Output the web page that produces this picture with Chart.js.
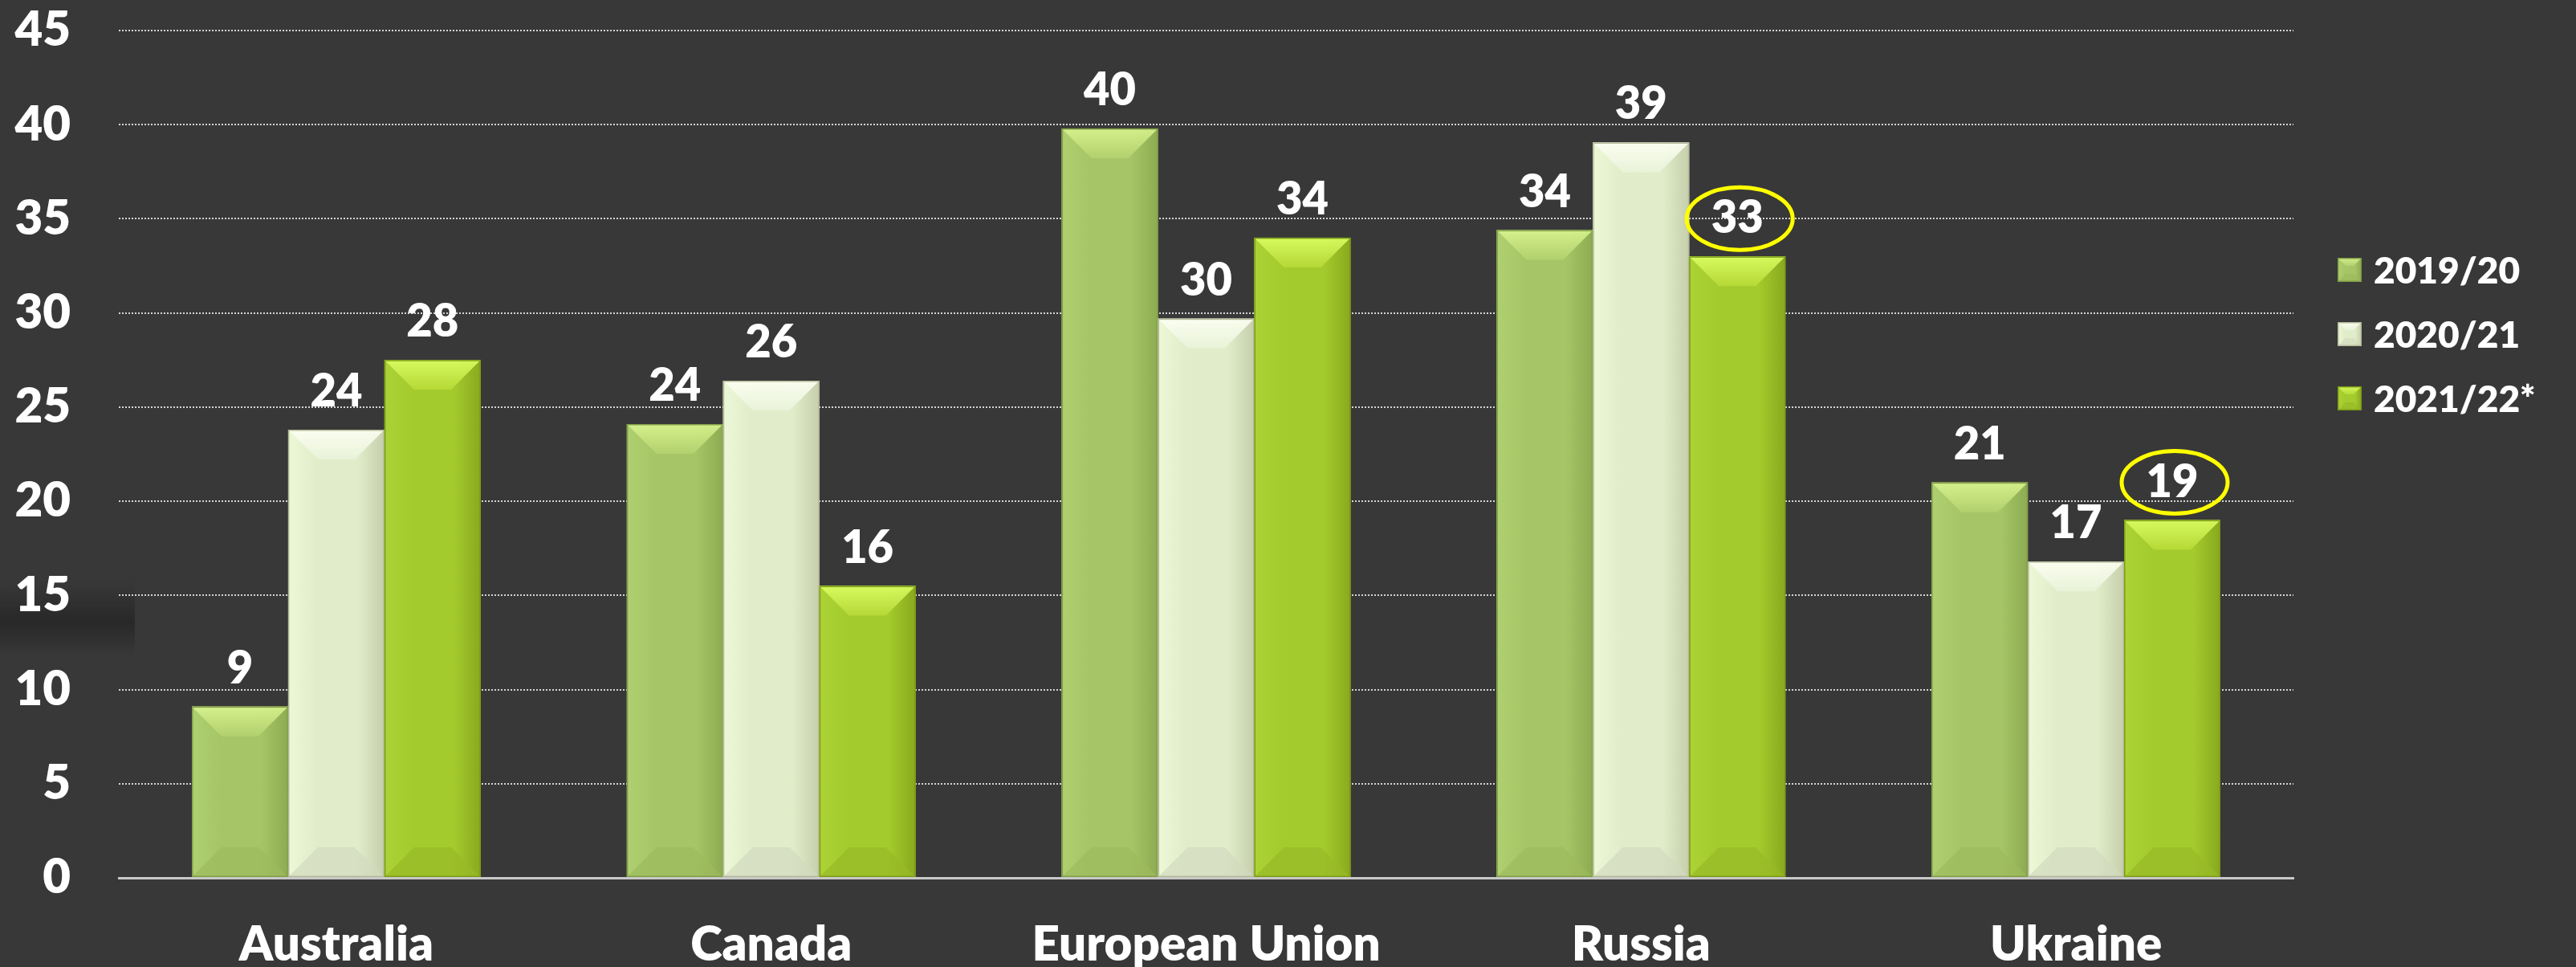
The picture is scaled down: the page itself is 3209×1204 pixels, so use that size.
<!DOCTYPE html>
<html>
<head>
<meta charset="utf-8">
<script src="https://cdn.jsdelivr.net/npm/chart.js@4.4.1/dist/chart.umd.min.js"></script>
<style>
    html, body { margin: 0; padding: 0; background: #383838; }
    #wrap { width: 3209px; height: 1204px; position: relative; }
</style>
</head>
<body>
<div id="wrap"><canvas id="cropChart"></canvas></div>
<script>
// Data
const countries = ['Australia', 'Canada', 'European Union', 'Russia', 'Ukraine'];
const seasons = ['2019/20', '2020/21', '2021/22*'];
const values1920 = [9.1, 24.1, 39.8, 34.4, 21.0];
const values2021 = [23.8, 26.4, 29.7, 39.05, 16.8];
const values2122 = [27.5, 15.5, 34.0, 33.0, 19.0];
const yMin = 0;
const yMax = 45;
const yStep = 5;
// labels marked with a yellow ring: [seasonIndex, countryIndex]
const circled = [[2, 3], [2, 4]];

const FONT = 'Lato, "Open Sans", sans-serif';
const WEIGHT = '800';

// bevel palettes, one per season
const palettes = [
    { face: '#a6c566', left: '#afd070', right: '#8dab51', edge: '#819e48', top1: '#d9f590', top2: '#b3d16e', bottom: '#9cba5d' },
    { face: '#e1edca', left: '#ecf8d6', right: '#c6ceac', edge: '#b3ba9a', top1: '#fdfff4', top2: '#eaf3da', bottom: '#d3dabf' },
    { face: '#a4cb2d', left: '#acd336', right: '#88a91d', edge: '#7d9b17', top1: '#dcff64', top2: '#b7da37', bottom: '#97b927' }
];

function drawBevelBox(ctx, x0, y0, x1, y1, p, b) {
    b = Math.min(b, (x1 - x0) / 2, (y1 - y0) / 2);
    const w = x1 - x0;
    ctx.save();
    // face, lighter on the left and darker on the right
    const fg = ctx.createLinearGradient(x0, 0, x1, 0);
    fg.addColorStop(0, p.left);
    fg.addColorStop(0.3, p.face);
    fg.addColorStop(0.72, p.face);
    fg.addColorStop(1, p.right);
    ctx.fillStyle = fg;
    ctx.fillRect(x0, y0, w, y1 - y0);

    // top bevel
    const tg = ctx.createLinearGradient(0, y0, 0, y0 + b);
    tg.addColorStop(0, p.top1);
    tg.addColorStop(1, p.top2);
    ctx.fillStyle = tg;
    ctx.globalAlpha = 0.9;
    ctx.beginPath();
    ctx.moveTo(x0, y0); ctx.lineTo(x1, y0); ctx.lineTo(x1 - b, y0 + b); ctx.lineTo(x0 + b, y0 + b);
    ctx.closePath(); ctx.fill();

    // bottom bevel
    ctx.fillStyle = p.bottom;
    ctx.globalAlpha = 0.7;
    ctx.beginPath();
    ctx.moveTo(x0, y1); ctx.lineTo(x1, y1); ctx.lineTo(x1 - b, y1 - b); ctx.lineTo(x0 + b, y1 - b);
    ctx.closePath(); ctx.fill();
    ctx.globalAlpha = 1;

    ctx.strokeStyle = p.edge;
    ctx.lineWidth = 1.5;
    ctx.strokeRect(x0 + 0.75, y0 + 0.75, w - 1.5, y1 - y0 - 1.5);
    ctx.restore();
}

// dark smudge behind the "15" tick, as in the original slide
const backdrop = {
    id: 'backdrop',
    beforeDraw(chart) {
        const ctx = chart.ctx;
        ctx.save();
        const g = ctx.createLinearGradient(0, 725, 0, 815);
        g.addColorStop(0, 'rgba(0,0,0,0)');
        g.addColorStop(0.55, 'rgba(0,0,0,0.28)');
        g.addColorStop(1, 'rgba(0,0,0,0)');
        ctx.fillStyle = g;
        ctx.fillRect(0, 725, 168, 90);
        ctx.restore();
    }
};

const bevelBars = {
    id: 'bevelBars',
    afterDatasetsDraw(chart) {
        const ctx = chart.ctx;
        chart.data.datasets.forEach((ds, di) => {
            const meta = chart.getDatasetMeta(di);
            meta.data.forEach(bar => {
                const half = bar.width / 2;
                drawBevelBox(ctx, bar.x - half, bar.y, bar.x + half, bar.base, palettes[di], 37);
            });
        });
    }
};

const valueLabels = {
    id: 'valueLabels',
    afterDatasetsDraw(chart) {
        const ctx = chart.ctx;
        ctx.save();
        ctx.font = WEIGHT + ' 56px ' + FONT;
        ctx.fillStyle = '#ffffff';
        ctx.textAlign = 'center';
        ctx.textBaseline = 'alphabetic';
        chart.data.datasets.forEach((ds, di) => {
            const meta = chart.getDatasetMeta(di);
            meta.data.forEach((bar, i) => {
                const baseline = bar.y - 29;
                ctx.fillText(String(Math.round(ds.data[i])), bar.x, baseline);
                if (circled.some(c => c[0] === di && c[1] === i)) {
                    ctx.strokeStyle = '#ffff00';
                    ctx.lineWidth = 5;
                    ctx.beginPath();
                    ctx.ellipse(bar.x + 3, baseline - 18, 66, 39, 0, 0, Math.PI * 2);
                    ctx.stroke();
                }
            });
        });
        ctx.restore();
    }
};

const bevelLegend = {
    id: 'bevelLegend',
    afterDraw(chart) {
        const ctx = chart.ctx;
        const area = chart.chartArea;
        const x = area.right + 55;
        ctx.save();
        ctx.font = WEIGHT + ' 46px ' + FONT;
        ctx.textAlign = 'left';
        ctx.textBaseline = 'middle';
        chart.data.datasets.forEach((ds, di) => {
            const cy = area.top + 298 + di * 80;
            drawBevelBox(ctx, x, cy - 15, x + 30, cy + 15, palettes[di], 10);
            ctx.fillStyle = '#ffffff';
            ctx.fillText(ds.label, x + 45, cy + 2);
        });
        ctx.restore();
    }
};

document.addEventListener('DOMContentLoaded', () => {
    renderChart();
});

function renderChart() {
    const ctx = document.getElementById('cropChart').getContext('2d');
    const seriesValues = [values1920, values2021, values2122];

    new Chart(ctx, {
        type: 'bar',
        data: {
            labels: countries,
            datasets: seasons.map((s, i) => ({
                label: s,
                data: seriesValues[i],
                backgroundColor: palettes[i].face,
                borderWidth: 0
            }))
        },
        options: {
            responsive: true,
            maintainAspectRatio: false,
            animation: false,
            layout: { padding: { top: 38, right: 352, left: 0, bottom: 0 } },
            datasets: {
                bar: { categoryPercentage: 0.664, barPercentage: 1.0 }
            },
            plugins: {
                legend: { display: false },
                tooltip: { enabled: false }
            },
            scales: {
                x: {
                    grid: { display: false },
                    border: { display: true, color: '#c8c8c8', width: 3 },
                    ticks: {
                        color: '#ffffff',
                        font: { family: FONT, size: 60, weight: WEIGHT },
                        padding: 40,
                        maxRotation: 0
                    },
                    afterFit(scale) {
                        scale.height = 111;
                        scale.paddingLeft = 0;
                        scale.paddingRight = 0;
                    }
                },
                y: {
                    min: yMin,
                    max: yMax,
                    ticks: {
                        stepSize: yStep,
                        color: '#ffffff',
                        font: { family: FONT, size: 60, weight: WEIGHT },
                        padding: 60
                    },
                    grid: {
                        drawTicks: false,
                        lineWidth: 2,
                        color: c => (c.tick && c.tick.value === 0) ? 'rgba(0,0,0,0)' : '#d4d4d4'
                    },
                    border: { display: false, dash: [2, 2] },
                    afterFit(scale) {
                        scale.width = 148;
                        scale.paddingTop = 0;
                        scale.paddingBottom = 0;
                    }
                }
            }
        },
        plugins: [backdrop, bevelBars, valueLabels, bevelLegend]
    });
}
</script>
</body>
</html>
